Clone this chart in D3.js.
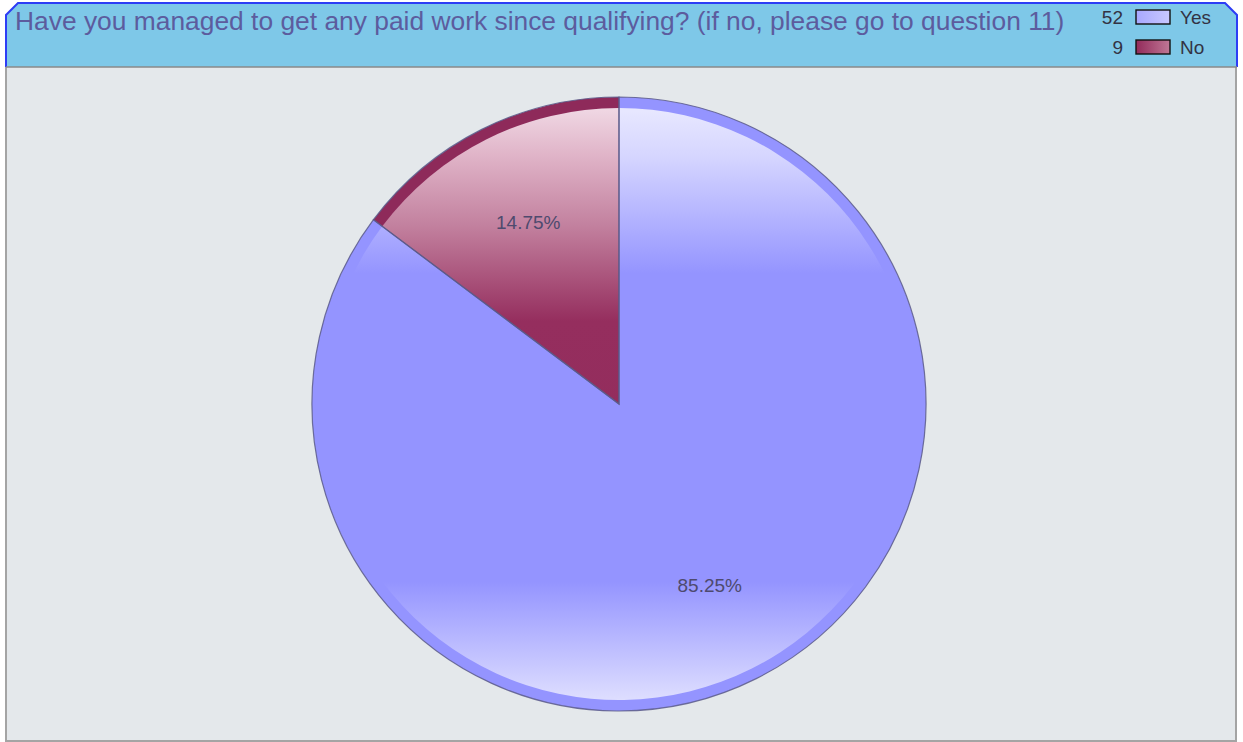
<!DOCTYPE html>
<html>
<head>
<meta charset="utf-8">
<script src="https://cdn.jsdelivr.net/npm/d3@7"></script>
<style>
html,body{margin:0;padding:0;background:#ffffff;}
svg{display:block;}
text{font-family:"Liberation Sans",Arial,sans-serif;}
</style>
</head>
<body>
<svg id="chart" width="1243" height="742"></svg>
<script>
// ---- data ----
const title = "Have you managed to get any paid work since qualifying? (if no, please go to question 11)";
const categories = ["Yes", "No"];
const counts = [52, 9];
const percentLabels = ["85.25%", "14.75%"];

// ---- styles ----
const rimColors = ["#9494ff", "#8e2a5a"];
const svg = d3.select("#chart");
const defs = svg.append("defs");

// panel
svg.append("rect").attr("x", 6).attr("y", 66).attr("width", 1230).attr("height", 675)
  .attr("fill", "#e4e8eb").attr("stroke", "#a4a4a4").attr("stroke-width", 2);

// header with chamfered corners
const hx0 = 6, hx1 = 1237, hy0 = 3, hy1 = 67, ch = 12;
svg.append("path")
  .attr("d", `M${hx0},${hy1} L${hx0},${hy0+ch} L${hx0+ch},${hy0} L${hx1-ch},${hy0} L${hx1},${hy0+ch} L${hx1},${hy1}`)
  .attr("fill", "#7ec8e8").attr("stroke", "#2d3df5").attr("stroke-width", 2);
svg.append("line").attr("x1", hx0).attr("x2", hx1).attr("y1", hy1).attr("y2", hy1)
  .attr("stroke", "#8a8a8a").attr("stroke-width", 1.5);

// title
const t = svg.append("text").attr("x", 15).attr("y", 30).attr("fill", "#5c5c9e")
  .attr("font-size", 22).text(title);
const tw = t.node().getComputedTextLength();
t.attr("font-size", 22 * 1050 / tw);

// legend
const legendG = svg.append("g");
const legendGrads = [["#a8a8ff", "#c8c8ff"], ["#922a5a", "#c07896"]];
legendGrads.forEach((g, i) => {
  const lg = defs.append("linearGradient").attr("id", "lg" + i).attr("x1", 0).attr("x2", 1).attr("y1", 0).attr("y2", 0);
  lg.append("stop").attr("offset", 0).attr("stop-color", g[0]);
  lg.append("stop").attr("offset", 1).attr("stop-color", g[1]);
});
const ly = d3.scaleBand().domain(categories).range([2, 62]);
categories.forEach((c, i) => {
  const y = ly(c);
  legendG.append("text").attr("x", 1123).attr("y", y + 22).attr("text-anchor", "end")
    .attr("font-size", 19).attr("fill", "#333344").text(counts[i]);
  legendG.append("rect").attr("x", 1136).attr("y", y + 8).attr("width", 34).attr("height", 14)
    .attr("fill", `url(#lg${i})`).attr("stroke", "#111").attr("stroke-width", 1.4);
  legendG.append("text").attr("x", 1180).attr("y", y + 22)
    .attr("font-size", 19).attr("fill", "#333344").text(c);
});

// pie
const cx = 619, cy = 404, r = 307, rim = 11;
const pie = d3.pie().sort(null).value(d => d);
const arcs = pie(counts);
const outerArc = d3.arc().innerRadius(0).outerRadius(r);
const innerArc = d3.arc().innerRadius(0).outerRadius(r - rim);
const labelArc = d3.arc().innerRadius(203).outerRadius(203);

// gradients in user space (vertical)
const gradStops = [
  [[0, "#e8e8ff"], [0.08, "#d6d6ff"], [0.28, "#9494ff"], [0.80, "#9494ff"], [0.93, "#c4c4ff"], [1, "#dedeff"]],
  [[0, "#f0d8e4"], [0.08, "#e0b4c8"], [0.2, "#c2809e"], [0.36, "#952e5e"], [1, "#8e2a5a"]]
];
gradStops.forEach((stops, i) => {
  const g = defs.append("linearGradient").attr("id", "pg" + i).attr("gradientUnits", "userSpaceOnUse")
    .attr("x1", 0).attr("x2", 0).attr("y1", -(r - rim)).attr("y2", r - rim);
  stops.forEach(s => g.append("stop").attr("offset", s[0]).attr("stop-color", s[1]));
});

const pg = svg.append("g").attr("transform", `translate(${cx},${cy})`);
pg.selectAll("path.rim").data(arcs).join("path").attr("class", "rim")
  .attr("d", outerArc).attr("fill", (d, i) => rimColors[i]);
pg.selectAll("path.inner").data(arcs).join("path").attr("class", "inner")
  .attr("d", innerArc).attr("fill", (d, i) => `url(#pg${i})`);
// outlines
pg.selectAll("path.edge").data(arcs).join("path").attr("class", "edge")
  .attr("d", outerArc).attr("fill", "none").attr("stroke", "#5a5a8a").attr("stroke-width", 1.2)
  .attr("stroke-opacity", 0.85);

pg.selectAll("text.lbl").data(arcs).join("text").attr("class", "lbl")
  .attr("transform", d => `translate(${labelArc.centroid(d)})`)
  .attr("text-anchor", "middle").attr("dy", "0.35em")
  .attr("font-size", 19).attr("fill", "#4e4a6e")
  .text((d, i) => percentLabels[i]);
</script>
</body>
</html>
